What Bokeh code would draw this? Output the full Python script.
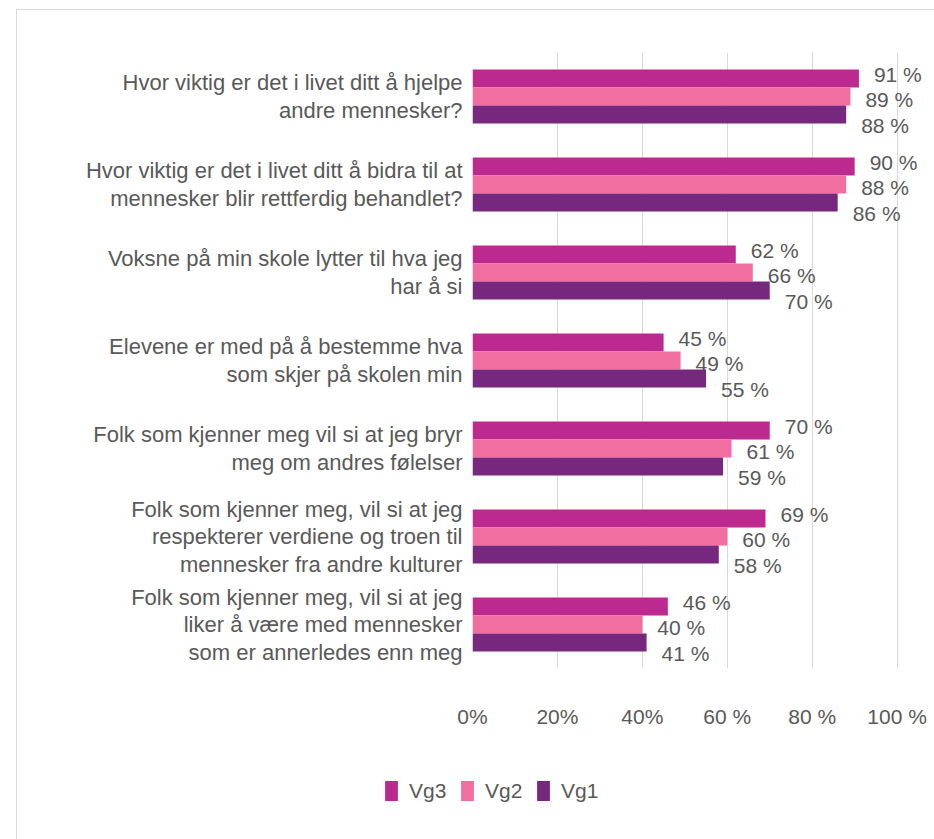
from bokeh.plotting import figure
from bokeh.layouts import column
from bokeh.models import FactorRange, FixedTicker, Legend, LegendItem, ColumnDataSource
from bokeh.transform import dodge
from bokeh.core.properties import value
from bokeh.embed import file_html
from bokeh.resources import INLINE

categories = [
    "Hvor viktig er det i livet ditt å hjelpe\nandre mennesker?",
    "Hvor viktig er det i livet ditt å bidra til at\nmennesker blir rettferdig behandlet?",
    "Voksne på min skole lytter til hva jeg\nhar å si",
    "Elevene er med på å bestemme hva\nsom skjer på skolen min",
    "Folk som kjenner meg vil si at jeg bryr\nmeg om andres følelser",
    "Folk som kjenner meg, vil si at jeg\nrespekterer verdiene og troen til\nmennesker fra andre kulturer",
    "Folk som kjenner meg, vil si at jeg\nliker å være med mennesker\nsom er annerledes enn meg",
]
vg3 = [91, 90, 62, 45, 70, 69, 46]
vg2 = [89, 88, 66, 49, 61, 60, 40]
vg1 = [88, 86, 70, 55, 59, 58, 41]
series_names = ["Vg3", "Vg2", "Vg1"]
tick_values = [0, 20, 40, 60, 80, 100]
tick_labels = ["0%", "20%", "40%", "60 %", "80 %", "100 %"]

colors = ["#BC2A8F", "#F06EA0", "#76287F"]
FONT = "Liberation Sans"
TXT = "#595959"
FS = "21px"
LINE = "linear-gradient(#D9D9D9, #D9D9D9)"

p = figure(
    width=934, height=745,
    y_range=FactorRange(factors=list(reversed(categories)), range_padding=0),
    x_range=(0, 108.8),
    output_backend="svg", toolbar_location=None,
    min_border_left=472, min_border_right=0, min_border_top=52, min_border_bottom=77,
)
p.outline_line_color = None
p.background_fill_color = "white"
p.border_fill_color = None
p.frame_align = False
p.styles = {"background": f"{LINE} 16px 9px / 1px 100% no-repeat, "
                          f"{LINE} 16px 9px / 100% 1px no-repeat, white"}

# legend strip figure
p2 = figure(width=934, height=94, output_backend="svg", toolbar_location=None,
            x_axis_location=None, y_axis_location=None,
            min_border_left=0, min_border_right=0, min_border_top=0, min_border_bottom=0)
p2.outline_line_color = None
p2.background_fill_color = None
p2.border_fill_color = None
p2.grid.visible = False
p2.frame_align = False
p2.styles = {"background": f"{LINE} 16px 0px / 1px 100% no-repeat, white"}

bh = 18 / 88
offsets = [bh, 0.0, -bh]
label_dy = [-4, 3, 11]
items = []
for name, vals, col, off, dy in zip(series_names, [vg3, vg2, vg1], colors, offsets, label_dy):
    src = ColumnDataSource(dict(cat=categories, v=vals, lab=[f"{x} %" for x in vals]))
    p.hbar(y=dodge("cat", off, range=p.y_range), right="v", left=0, height=bh,
           source=src, fill_color=col, line_color=None)
    p.text(x="v", y=dodge("cat", off, range=p.y_range), text="lab", source=src,
           x_offset=15, y_offset=dy, text_align="left", text_baseline="middle",
           text_font=value(FONT), text_font_size=FS, text_color=TXT)
    # legend key renderer (hidden, only used for the legend swatch)
    src2 = ColumnDataSource(dict(y=list(range(len(vals))), v=vals))
    r = p2.hbar(y="y", right="v", left=0, height=0.5, source=src2,
                fill_color=col, line_color=None, visible=False)
    items.append(LegendItem(label=name, renderers=[r]))

# x axis
xa = p.xaxis[0]
xa.ticker = FixedTicker(ticks=tick_values)
xa.major_label_overrides = {t: l for t, l in zip(tick_values, tick_labels)}
xa.axis_line_color = None
xa.major_tick_line_color = None
xa.minor_tick_line_color = None
xa.major_label_standoff = 30
xa.major_label_text_font = FONT
xa.major_label_text_font_size = FS
xa.major_label_text_color = TXT

# y axis
ya = p.yaxis[0]
ya.axis_line_color = None
ya.major_tick_line_color = None
ya.minor_tick_line_color = None
ya.major_label_standoff = 4
ya.major_label_text_font = FONT
ya.major_label_text_font_size = "22px"
ya.major_label_text_color = TXT
ya.major_label_text_line_height = 1.1

p.xgrid.ticker = FixedTicker(ticks=tick_values)
p.xgrid.grid_line_color = "#D9D9D9"
p.ygrid.grid_line_color = None

legend = Legend(items=items, orientation="horizontal", location=(383, 36),
                glyph_width=16, glyph_height=25, label_height=25, label_width=42,
                label_standoff=10, spacing=8, padding=0, margin=0,
                border_line_color=None, background_fill_alpha=0,
                inactive_fill_alpha=0, click_policy="none",
                label_text_font=FONT, label_text_font_size=FS, label_text_color=TXT)
p2.add_layout(legend, "center")

layout = column(p, p2, spacing=0)
open("out.html", "w").write(file_html(layout, INLINE))
